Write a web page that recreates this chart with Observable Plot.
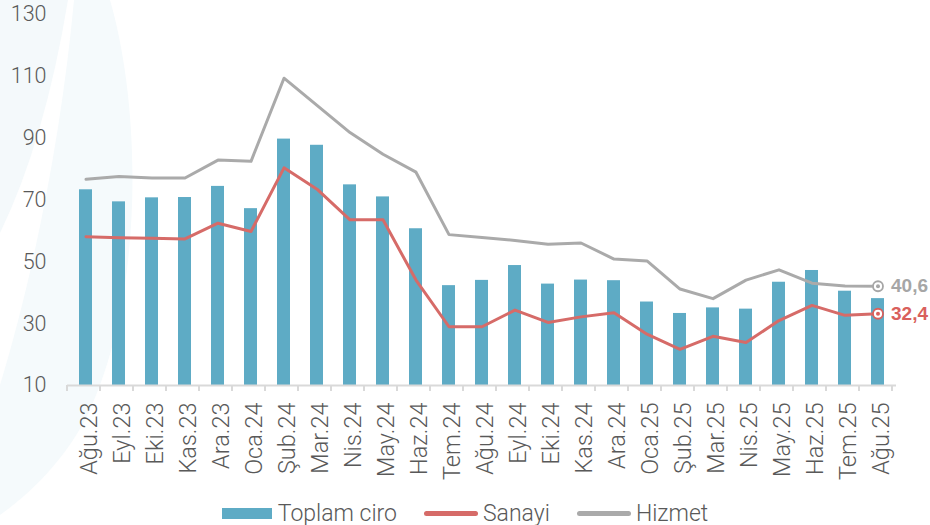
<!DOCTYPE html>
<html>
<head>
<meta charset="utf-8">
<script src="https://cdn.jsdelivr.net/npm/d3@7"></script>
<script src="https://cdn.jsdelivr.net/npm/@observablehq/plot@0.6"></script>
<style>
  html, body { margin: 0; padding: 0; background: #ffffff; }
  #wrap { position: relative; width: 930px; height: 525px; overflow: hidden; font-family: Roboto, "Liberation Sans", sans-serif; font-weight: 300; color: #595959; }
  #bg { position: absolute; left: 0; top: 0; }
  #chart { position: absolute; left: 0; top: 0; }
  #chart g[aria-label="x-axis tick label"], #chart g[aria-label="x-axis"] { font-size: 23.5px; }
  #legend { position: absolute; left: 0; top: 500px; width: 930px; height: 26px; display: flex; justify-content: center; align-items: center; font-size: 23px; }
  .item { display: flex; align-items: center; }
  .sw-bar { width: 50px; height: 11px; margin-right: 6px; }
  .sw-line { width: 54px; height: 5px; border-radius: 3px; margin-right: 5px; }
  .gap { width: 27px; }
</style>
</head>
<body>
<div id="wrap">
  <svg id="bg" width="930" height="525">
    <path d="M0,0 L68,0 Q45,140 0,233 Z" fill="#f4f9fb"/>
    <path d="M74,0 L110,0 C142,110 145,300 85,420 C62,462 32,492 0,515 L0,385 C35,270 62,130 74,0 Z" fill="#f5fafc"/>
  </svg>
  <div id="chart"></div>
  <div id="legend"></div>
</div>
<script>
const months = ["Ağu.23","Eyl.23","Eki.23","Kas.23","Ara.23","Oca.24","Şub.24","Mar.24","Nis.24","May.24","Haz.24","Tem.24","Ağu.24","Eyl.24","Eki.24","Kas.24","Ara.24","Oca.25","Şub.25","Mar.25","Nis.25","May.25","Haz.25","Tem.25","Ağu.25"];
const toplamCiro = [73.3,69.4,70.7,70.8,74.4,67.2,89.7,87.7,74.9,71.0,60.7,42.3,44.0,48.8,42.8,44.1,43.9,37.0,33.3,35.1,34.7,43.4,47.2,40.5,38.1];
const sanayi = [58.1,57.8,57.6,57.4,62.5,59.8,80.4,73.5,63.6,63.6,44.1,29.0,29.0,34.4,30.4,32.2,33.5,26.6,21.7,25.9,23.9,31.0,35.9,32.7,33.2];
const hizmet = [76.7,77.6,77.1,77.1,82.9,82.5,109.4,100.6,91.8,84.8,79.0,58.8,57.9,56.9,55.7,56.1,50.9,50.3,41.2,38.1,44.1,47.4,43.1,42.2,42.1];
const yTicks = [10,30,50,70,90,110,130];
const seriesNames = ["Toplam ciro","Sanayi","Hizmet"];
const endLabels = ["40,6","32,4"];

const colors = {bar: "#5eabc5", sanayi: "#d66b68", hizmet: "#aaaaaa", axis: "#d9d9d9", text: "#595959"};

const data = months.map((m, i) => ({month: m, toplam: toplamCiro[i], sanayi: sanayi[i], hizmet: hizmet[i]}));
const last = data[data.length - 1];
const ends = [
  {month: last.month, value: last.hizmet, label: endLabels[0], color: "#a6a6a6"},
  {month: last.month, value: last.sanayi, label: endLabels[1], color: "#d9605c"}
];

const chart = Plot.plot({
  width: 930,
  height: 497,
  marginLeft: 67,
  marginRight: 34,
  marginTop: 14,
  marginBottom: 112,
  style: {fontFamily: "Roboto, 'Liberation Sans', sans-serif", fontWeight: 300, fontSize: "21.5px", color: colors.text, background: "transparent", overflow: "visible"},
  x: {domain: months, paddingInner: 0.6, paddingOuter: 0.3, label: null, tickSize: 0, tickPadding: 17, tickRotate: -90},
  y: {domain: [10, 130], ticks: yTicks, label: null, tickSize: 0, tickPadding: 21},
  marks: [
    Plot.barY(data, {x: "month", y1: 10, y2: "toplam", fill: colors.bar}),
    Plot.ruleY([10], {stroke: colors.axis, strokeWidth: 2}),
    Plot.line(data, {x: "month", y: "sanayi", stroke: colors.sanayi, strokeWidth: 3}),
    Plot.line(data, {x: "month", y: "hizmet", stroke: colors.hizmet, strokeWidth: 3}),
    Plot.dot(ends, {x: "month", y: "value", r: 5, fill: "white", stroke: "color", strokeWidth: 1.8}),
    Plot.dot(ends, {x: "month", y: "value", r: 2, fill: "color", stroke: null}),
    Plot.text(ends, {x: "month", y: "value", text: "label", fill: "color", dx: 13, textAnchor: "start", fontSize: 19, fontWeight: "bold", fontFamily: "'Liberation Sans', Arial, sans-serif"})
  ]
});

// boundary ticks under the x axis, placed with the band scale's own range and step
const sx = chart.scale("x");
const sy = chart.scale("y");
const y0 = sy.apply(10);
const svg = d3.select(chart.tagName.toLowerCase() === "svg" ? chart : chart.querySelector("svg"));
const tickG = svg.append("g").attr("stroke", colors.axis).attr("stroke-width", 2);
for (let k = 0; k <= months.length; k++) {
  const xb = sx.range[0] + k * sx.step;
  tickG.append("line").attr("x1", xb).attr("x2", xb).attr("y1", y0).attr("y2", y0 + 6);
}
// nudge rotated month labels slightly left as in the reference
svg.selectAll('g[aria-label="x-axis tick label"] text, g[aria-label="x-axis"] text').attr("dx", null).attr("dy", "0.15em");

document.getElementById("chart").append(chart);

// legend
const legend = d3.select("#legend");
const items = [
  {name: seriesNames[0], type: "bar", color: colors.bar},
  {name: seriesNames[1], type: "line", color: colors.sanayi},
  {name: seriesNames[2], type: "line", color: colors.hizmet}
];
items.forEach((it, i) => {
  if (i > 0) legend.append("div").attr("class", "gap");
  const d = legend.append("div").attr("class", "item");
  d.append("div").attr("class", it.type === "bar" ? "sw-bar" : "sw-line").style("background", it.color);
  d.append("span").text(it.name);
});
</script>
</body>
</html>
